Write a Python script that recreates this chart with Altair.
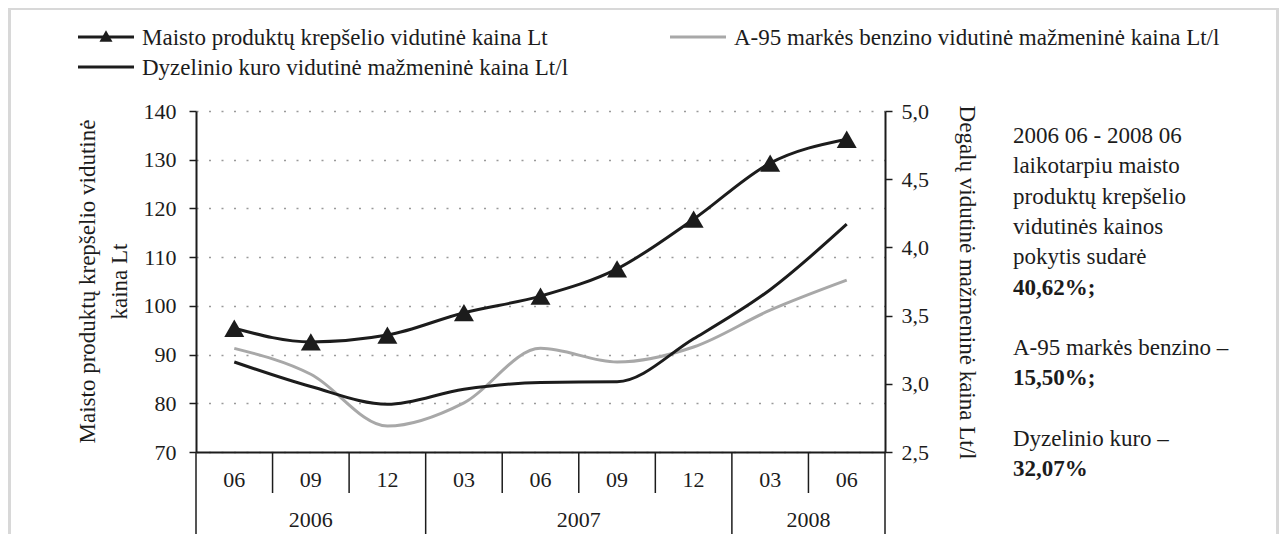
import altair as alt
import pandas as pd

# ---------------- data ----------------
months = ["06", "09", "12", "03", "06", "09", "12", "03", "06"]
years = ["2006", "2006", "2006", "2007", "2007", "2007", "2007", "2008", "2008"]
food = [95.4, 92.6, 94.0, 98.6, 102.0, 107.6, 117.8, 129.3, 134.2]      # Lt
a95 = [3.26, 3.07, 2.69, 2.86, 3.26, 3.16, 3.27, 3.54, 3.76]            # Lt/l
diesel = [3.16, 2.98, 2.85, 2.96, 3.01, 3.015, 3.33, 3.69, 4.17]        # Lt/l

left_ticks = [70, 80, 90, 100, 110, 120, 130, 140]
right_ticks = [2.5, 3.0, 3.5, 4.0, 4.5, 5.0]

name_food = "Maisto produktų krepšelio vidutinė kaina Lt"
name_a95 = "A-95 markės benzino vidutinė mažmeninė kaina Lt/l"
name_diesel = "Dyzelinio kuro vidutinė mažmeninė kaina Lt/l"

left_title = ["Maisto produktų krepšelio vidutinė", "kaina Lt"]
right_title = "Degalų vidutinė mažmeninė kaina Lt/l"

notes = [
    ("2006 06 - 2008 06", "normal"),
    ("laikotarpiu maisto", "normal"),
    ("produktų krepšelio", "normal"),
    ("vidutinės kainos", "normal"),
    ("pokytis sudarė", "normal"),
    ("40,62%;", "bold"),
    ("", "normal"),
    ("A-95 markės benzino –", "normal"),
    ("15,50%;", "bold"),
    ("", "normal"),
    ("Dyzelinio kuro –", "normal"),
    ("32,07%", "bold"),
]

# ---------------- tables ----------------
idx = list(range(len(months)))
df = pd.DataFrame({"idx": idx, "month": months, "year": years,
                   "food": food, "a95": a95, "diesel": diesel})

year_rows = []
for y in dict.fromkeys(years):
    ii = [i for i, yy in enumerate(years) if yy == y]
    year_rows.append({"idx": (min(ii) + max(ii)) / 2, "year": y})
year_df = pd.DataFrame(year_rows)

sep_rows = [{"idx": -0.5, "kind": "year"}, {"idx": len(months) - 0.5, "kind": "year"}]
for i in range(1, len(months)):
    sep_rows.append({"idx": i - 0.5, "kind": "year" if years[i] != years[i - 1] else "month"})
sep_df = pd.DataFrame(sep_rows)

one = pd.DataFrame({"a": [0]})

# ---------------- styling ----------------
FONT = "Liberation Serif"
W, H = 689, 341
PAD_L, PAD_T, PAD_R, PAD_B = 188, 103, 394, 82
INK = "#1c1c1c"
GRAY = "#a8a8a8"
INTERP = "monotone"

xaxis = alt.Axis(labels=False, ticks=False, grid=False, domain=True,
                 domainColor=INK, domainWidth=2, title=None)
X = alt.X("idx:Q", scale=alt.Scale(domain=[-0.5, len(months) - 0.5], nice=False, zero=False),
          axis=xaxis)

left_scale = alt.Scale(domain=[70, 140], nice=False, zero=False)
right_scale = alt.Scale(domain=[2.5, 5.0], nice=False, zero=False)

base = alt.Chart(df)

food_line = base.mark_line(color=INK, strokeWidth=3, interpolate=INTERP).encode(
    x=X,
    y=alt.Y("food:Q", scale=left_scale,
            axis=alt.Axis(orient="left", values=left_ticks, title=None,
                          domainColor=INK, domainWidth=2, tickColor=INK, tickWidth=1.5,
                          tickSize=7, labelPadding=13, labelFontSize=22, labelColor=INK,
                          labelFont=FONT, grid=True, gridColor="#9a9a9a",
                          gridDash=[2, 10.5], gridWidth=1.3)),
)

food_pts = base.mark_point(shape="triangle-up", filled=True, size=400, color=INK, opacity=1).encode(
    x=X,
    y=alt.Y("food:Q", scale=left_scale, axis=None),
)

fuel = base.transform_fold(["a95", "diesel"], as_=["series", "value"]).mark_line(
    strokeWidth=3, interpolate=INTERP
).encode(
    x=X,
    y=alt.Y("value:Q", scale=right_scale,
            axis=alt.Axis(orient="right", values=right_ticks, title=None,
                          labelExpr="replace(format(datum.value, '.1f'), '.', ',')",
                          domainColor=INK, domainWidth=2, tickColor=INK, tickWidth=1.5,
                          tickSize=7, labelPadding=9, labelFontSize=22, labelColor=INK,
                          labelFont=FONT, grid=False)),
    color=alt.Color("series:N", scale=alt.Scale(domain=["a95", "diesel"], range=[GRAY, INK]),
                    legend=None),
    detail="series:N",
)

# category separators below the plot
month_sep = alt.Chart(sep_df).transform_filter("datum.kind == 'month'").mark_rule(
    color=INK, strokeWidth=1.5).encode(x=X, y=alt.value(H), y2=alt.value(H + 41))
year_sep = alt.Chart(sep_df).transform_filter("datum.kind == 'year'").mark_rule(
    color=INK, strokeWidth=1.5).encode(x=X, y=alt.value(H), y2=alt.value(H + 90))

month_lbl = base.mark_text(font=FONT, fontSize=22, color=INK, baseline="middle").encode(
    x=X, y=alt.value(H + 28), text="month:N")
year_lbl = alt.Chart(year_df).mark_text(font=FONT, fontSize=22, color=INK, baseline="middle").encode(
    x=X, y=alt.value(H + 68), text="year:N")

layers = []

# frame
layers.append(alt.Chart(one).mark_rect(fillOpacity=0, stroke="#d8d8d8", strokeWidth=3).encode(
    x=alt.value(-PAD_L + 1.5), x2=alt.value(W + PAD_R - 1.5),
    y=alt.value(-PAD_T + 0.5), y2=alt.value(H + PAD_B + 40)))

layers += [food_line, fuel, food_pts, month_sep, year_sep, month_lbl, year_lbl]

# axis titles
for k, line in enumerate(left_title):
    layers.append(alt.Chart(one).mark_text(text=line, font=FONT, fontSize=23, color=INK, angle=270,
                                           align="center", baseline="middle").encode(
        x=alt.value(-108 + 32 * k), y=alt.value(H / 2)))
layers.append(alt.Chart(one).mark_text(text=right_title, font=FONT, fontSize=23, color=INK, angle=90,
                                       align="center", baseline="middle").encode(
    x=alt.value(W + 82), y=alt.value(H / 2 + 1)))

# legend
def leg_item(x0, y0, label, color, tri):
    out = [alt.Chart(one).mark_rule(color=color, strokeWidth=3.2).encode(
        x=alt.value(x0), x2=alt.value(x0 + 56), y=alt.value(y0))]
    if tri:
        out.append(alt.Chart(one).mark_point(shape="triangle-up", filled=True, size=170,
                                             color=color, opacity=1).encode(
            x=alt.value(x0 + 28), y=alt.value(y0 - 1)))
    out.append(alt.Chart(one).mark_text(text=label, font=FONT, fontSize=23, color=INK,
                                        align="left", baseline="middle").encode(
        x=alt.value(x0 + 64), y=alt.value(y0 + 1)))
    return out

layers += leg_item(-118, -74, name_food, INK, True)
layers += leg_item(-118, -44, name_diesel, INK, False)
layers += leg_item(474, -74, name_a95, GRAY, False)

# note text at right
for i, (txt, wt) in enumerate(notes):
    if not txt:
        continue
    layers.append(alt.Chart(one).mark_text(text=txt, font=FONT, fontSize=23, color=INK,
                                           fontWeight=wt, align="left", baseline="middle").encode(
        x=alt.value(817), y=alt.value(25 + 30.3 * i)))

chart = alt.layer(*layers).resolve_scale(y="independent").properties(
    width=W, height=H,
    autosize=alt.AutoSizeParams(type="none"),
    padding={"left": PAD_L, "top": PAD_T, "right": PAD_R, "bottom": PAD_B},
    background="white",
).configure(font=FONT).configure_view(stroke=None)

chart.save("out.html", embed_options={"renderer": "svg", "actions": False})
